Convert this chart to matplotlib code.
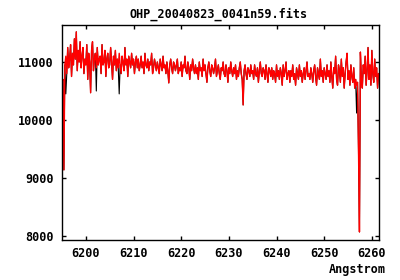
import matplotlib
matplotlib.use('Agg')
import matplotlib.pyplot as plt
from matplotlib.font_manager import FontProperties
import numpy as np

# spectre OHP, grille lineaire en longueur d'onde (CRVAL1 / CDELT1)
wave_start = 6195.0
wave_step = 0.2

flux = [
    10650, 10700, 9140, 10950, 11100, 10800, 11250, 10900, 11050, 11300, 10750, 11150, 10950, 11400, 11050, 11520, 10850, 11200, 11000, 11350,
    10900, 11100, 11250, 10800, 11050, 10950, 11300, 10700, 11150, 11000, 10470, 11200, 11350, 10850, 11050, 11150, 10900, 11250, 10950, 11050,
    11100, 10800, 11300, 10950, 11000, 11200, 10750, 11050, 11150, 10900, 10950, 11250, 11000, 10700, 11100, 10950, 11200, 10850, 11050, 10900,
    11150, 10950, 10800, 11100, 11000, 10850, 11250, 10950, 11050, 10750, 11100, 11000, 10900, 11150, 10950, 11050, 10800, 11000, 11100, 10900,
    11050, 10850, 10950, 11100, 10900, 11000, 10800, 11150, 10950, 10900, 11050, 10850, 11000, 10950, 11150, 10800, 10900, 11050, 10950, 10850,
    11000, 10900, 10800, 11050, 10950, 10850, 11100, 10900, 10950, 10800, 11000, 10850, 10640, 10950, 11050, 10900, 10800, 11000, 10950, 10850,
    10950, 11050, 10800, 10900, 10850, 11000, 10750, 10950, 10900, 11100, 10850, 10800, 11000, 10900, 10700, 10950, 10850, 11050, 10900, 10800,
    10950, 10800, 10900, 10700, 11000, 10850, 10900, 10750, 11050, 10850, 10950, 10800, 10650, 10900, 11000, 10850, 10750, 10950, 10900, 10800,
    10900, 11050, 10750, 10850, 10950, 10800, 10700, 10900, 10850, 11000, 10800, 10750, 10950, 10850, 10650, 10900, 10800, 11000, 10850, 10750,
    10900, 10800, 10950, 10700, 10850, 10750, 10900, 11000, 10800, 10700, 10260, 10850, 10950, 10800, 10700, 10900, 10850, 10750, 10950, 10800,
    10850, 10700, 10950, 10800, 10750, 10900, 10650, 10850, 11000, 10800, 10750, 10900, 10850, 10700, 10950, 10800, 10650, 10900, 10850, 10750,
    10900, 10700, 10850, 10800, 10650, 10950, 10750, 10850, 10700, 10900, 10800, 10600, 10950, 10750, 10850, 11000, 10700, 10800, 10850, 10650,
    10850, 10750, 10950, 10700, 10800, 10600, 10900, 10800, 10700, 10950, 10750, 10850, 10650, 10800, 10900, 10700, 10850, 11000, 10750, 10800,
    10700, 10900, 10800, 10650, 10850, 10950, 10750, 10600, 10900, 10800, 10700, 11050, 10750, 10850, 10650, 10900, 10800, 10700, 10950, 10750,
    10850, 10650, 11000, 10750, 10550, 10900, 10800, 11100, 10700, 10600, 10950, 10850, 10650, 11050, 10750, 10900, 10550, 10800, 11000, 11150,
    10700, 10850, 10600, 10950, 10750, 10650, 10900, 10550, 10700, 10600, 10650, 9480, 8070, 11170, 10700, 10550, 10950, 10800, 11100, 10600,
    10850, 11250, 10700, 10950, 10600, 11200, 10800, 10650, 11050, 10750, 10900, 10550, 10800,
]

# points ou le spectre noir differe du rouge (indice -> flux)
black_diff = {4: 10450, 36: 10500, 60: 10450, 309: 10120}

wave = wave_start + wave_step * np.arange(len(flux))
flux_black = list(flux)
for i, v in black_diff.items():
    flux_black[i] = v

font = {'family': 'DejaVu Sans Mono', 'weight': 'bold', 'size': 8.5}
fp = FontProperties(**font)

fig = plt.figure(figsize=(4, 2.8), dpi=100)
ax = fig.add_axes([0.155, 0.1429, 0.7925, 0.7678])
ax.plot(wave, flux_black, color='black', lw=0.8)
ax.plot(wave, flux, color='red', lw=1)

ax.set_xlim(6195.0, 6261.5)
ax.set_ylim(7931, 11638)
ax.set_xticks([6200, 6210, 6220, 6230, 6240, 6250, 6260])
ax.set_yticks([8000, 9000, 10000, 11000])
ax.tick_params(direction='in', length=3, width=1, top=True, right=True)
ax.tick_params(axis='x', pad=5)
ax.tick_params(axis='y', pad=6)
for lab in ax.get_xticklabels() + ax.get_yticklabels():
    lab.set_fontproperties(fp)
for s in ax.spines.values():
    s.set_linewidth(1)

fig.text(0.5475, 0.95, 'OHP_20040823_0041n59.fits', ha='center', va='center', **font)
fig.text(0.965, 0.036, 'Angstrom', ha='right', va='center', **font)

fig.savefig('out.png', dpi=100)
print("Grafico guardado como 'out.png'.")
